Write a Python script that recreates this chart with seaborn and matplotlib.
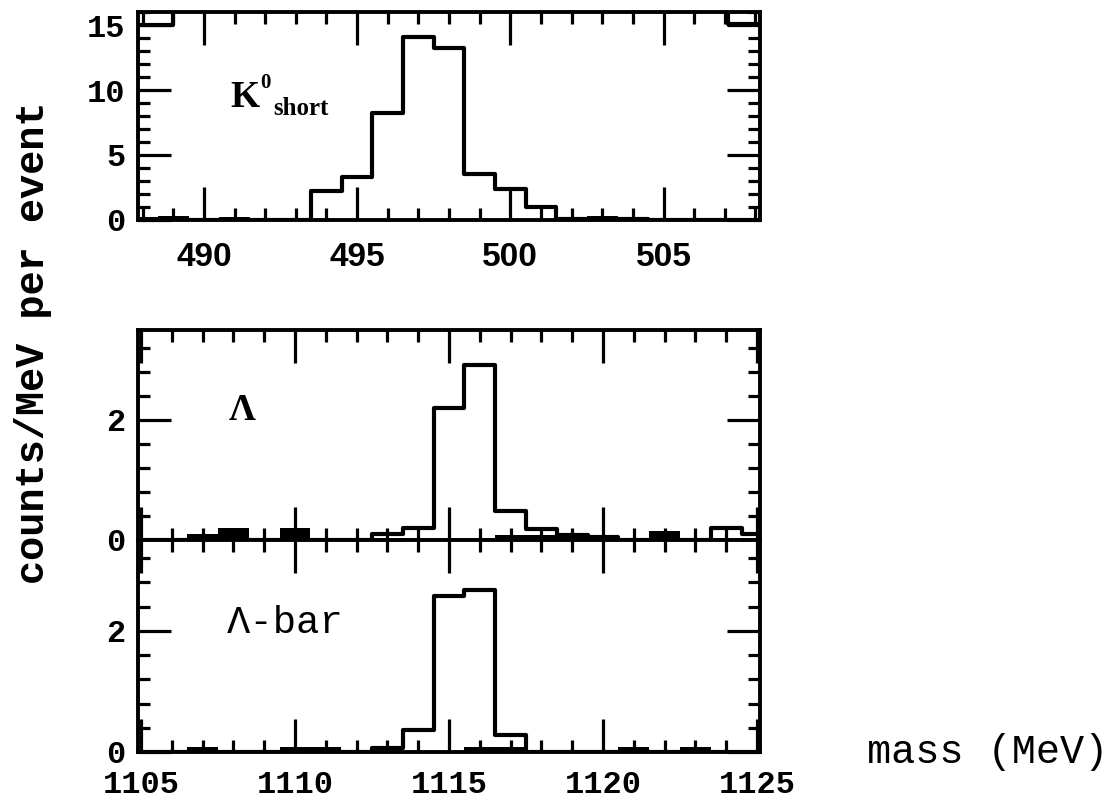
import numpy as np
import pandas as pd
import seaborn as sns
import matplotlib
matplotlib.use("Agg")
import matplotlib.pyplot as plt
from matplotlib.ticker import MultipleLocator

# ---------------- data ----------------
# K0 short panel: 1 MeV bins centred on integer masses
k0_mass = list(range(488, 509))
k0_signal = [0, 0, 0, 0, 0, 0, 2.2, 3.3, 8.2, 14.1, 13.2, 3.5, 2.4, 1.0,
             0.1, 0.1, 0.1, 0, 0, 0, 0]
k0_background = [0.25, 0.3, 0.05, 0.2, 0.05, 0.05, 0.05, 0.05, 0.05, 0.05,
                 0.05, 0.05, 0.05, 0.05, 0.15, 0.3, 0.05, 0.05, 0.05, 0.05, 0.1]
# overflow bins at the two ends of the K0 window
k0_overflow_left_mass = [487.85, 489.0, 489.0]
k0_overflow_left_counts = [15.0, 15.0, 16.0]
k0_overflow_right_mass = [508.15, 507.1, 507.1]
k0_overflow_right_counts = [15.1, 15.1, 16.0]

# Lambda and anti-Lambda panels
lam_mass = list(range(1105, 1126))
lam_signal = [0, 0, 0, 0, 0, 0, 0, 0, 0.1, 0.2, 2.2, 2.92, 0.49, 0.18,
              0.08, 0.05, 0, 0, 0, 0.2, 0.1]
lam_background = [0, 0.03, 0.1, 0.2, 0.02, 0.2, 0.02, 0.02, 0.03, 0.02, 0,
                  0, 0.08, 0.08, 0.08, 0.08, 0.02, 0.15, 0.02, 0.02, 0.02]
lbar_signal = [0, 0, 0, 0, 0, 0, 0, 0, 0.06, 0.37, 2.57, 2.68, 0.28,
               0, 0, 0, 0, 0, 0, 0, 0]
lbar_background = [0, 0.02, 0.08, 0.02, 0.02, 0.08, 0.08, 0.02, 0.02, 0.02,
                   0.02, 0.08, 0.08, 0.02, 0.02, 0.02, 0.08, 0.02, 0.08, 0.02, 0]

bin_width = 1.0

# ---------------- style ----------------
sns.set_theme(style="white")
plt.rcParams["font.family"] = ["Liberation Mono", "DejaVu Sans"]
plt.rcParams["axes.edgecolor"] = "black"
plt.rcParams["text.color"] = "black"
plt.rcParams["xtick.color"] = "black"
plt.rcParams["ytick.color"] = "black"
plt.rcParams["axes.labelcolor"] = "black"

MONO = "Liberation Mono"
SANS = "Liberation Sans"
SERIF = "Liberation Serif"

fig = plt.figure(figsize=(11.2, 8.07), dpi=100)
ax_k = fig.add_axes([0.1232, 0.7274, 0.5554, 0.2577])
ax_l = fig.add_axes([0.1232, 0.3309, 0.5554, 0.2602])
ax_b = fig.add_axes([0.1232, 0.0682, 0.5554, 0.2627])


def draw_hist(ax, centers, signal, background):
    c = np.asarray(centers, dtype=float)
    edges = list(np.append(c - bin_width / 2, c[-1] + bin_width / 2))
    df = pd.DataFrame({"mass": c, "signal": signal, "background": background})
    sns.histplot(data=df, x="mass", weights="background", bins=edges,
                 element="step", fill=True, color="black", alpha=1,
                 linewidth=0, ax=ax)
    sns.histplot(data=df, x="mass", weights="signal", bins=edges,
                 element="step", fill=False, color="black", linewidth=3.0,
                 ax=ax)


def style_axis(ax, xmaj, xmin, ymaj, ymin):
    ax.xaxis.set_major_locator(MultipleLocator(xmaj))
    ax.xaxis.set_minor_locator(MultipleLocator(xmin))
    ax.yaxis.set_major_locator(MultipleLocator(ymaj))
    ax.yaxis.set_minor_locator(MultipleLocator(ymin))
    ax.tick_params(which="both", direction="in", top=True, right=True,
                   bottom=True, left=True, width=2.3, color="black",
                   labelcolor="black")
    ax.tick_params(which="major", length=24)
    ax.tick_params(which="minor", length=8.5)
    for sp in ax.spines.values():
        sp.set_linewidth(2.8)
        sp.set_color("black")
    ax.set_xlabel("")
    ax.set_ylabel("")
    ax.set_facecolor("white")


# ---- K0 short ----
draw_hist(ax_k, k0_mass, k0_signal, k0_background)
sns.lineplot(x=k0_overflow_left_mass, y=k0_overflow_left_counts, sort=False,
             estimator=None, color="black", linewidth=3.0, ax=ax_k)
sns.lineplot(x=k0_overflow_right_mass, y=k0_overflow_right_counts, sort=False,
             estimator=None, color="black", linewidth=3.0, ax=ax_k)
ax_k.set_xlim(487.85, 508.15)
ax_k.set_ylim(0, 16)
style_axis(ax_k, 5, 1, 5, 1)
ax_k.tick_params(axis="x", pad=16)
ax_k.tick_params(axis="y", pad=9)
plt.setp(ax_k.get_xticklabels(), family=SANS, weight="bold", fontsize=24)
plt.setp(ax_k.get_yticklabels(), family=MONO, weight="bold", fontsize=23)
ax_k.text(490.85, 8.7, "K", family=SERIF, weight="bold", fontsize=27,
          va="baseline", ha="left")
ax_k.text(491.85, 10.15, "0", family=SERIF, weight="bold", fontsize=15,
          va="baseline", ha="left")
ax_k.text(492.25, 8.05, "short", family=SERIF, weight="bold", fontsize=18,
          va="baseline", ha="left")

# ---- Lambda ----
draw_hist(ax_l, lam_mass, lam_signal, lam_background)
ax_l.set_xlim(1104.9, 1125.1)
ax_l.set_ylim(0, 3.5)
style_axis(ax_l, 5, 1, 2, 0.4)
ax_l.tick_params(axis="x", labelbottom=False)
ax_l.tick_params(axis="y", pad=9)
plt.setp(ax_l.get_yticklabels(), family=MONO, weight="bold", fontsize=23)
ax_l.text(1107.85, 2.15, "Λ", family=SERIF, weight="bold", fontsize=27,
          va="center", ha="left")

# ---- anti-Lambda ----
draw_hist(ax_b, lam_mass, lbar_signal, lbar_background)
ax_b.set_xlim(1104.9, 1125.1)
ax_b.set_ylim(0, 3.5)
style_axis(ax_b, 5, 1, 2, 0.4)
ax_b.tick_params(axis="x", pad=13)
ax_b.tick_params(axis="y", pad=9)
plt.setp(ax_b.get_xticklabels(), family=MONO, weight="bold", fontsize=23)
plt.setp(ax_b.get_yticklabels(), family=MONO, weight="bold", fontsize=23)
ax_b.text(1107.8, 2.13, "Λ-bar", family=MONO, fontsize=28,
          va="center", ha="left")

# shared labels
fig.text(33 / 1120, 1 - 343 / 807, "counts/MeV per event", family=MONO,
         weight="bold", fontsize=29, rotation=90, va="center", ha="center")
fig.text(867 / 1120, 1 - 763 / 807, "mass (MeV)", family=MONO, fontsize=29,
         va="baseline", ha="left")

fig.savefig("out.png", dpi=100, facecolor="white")
